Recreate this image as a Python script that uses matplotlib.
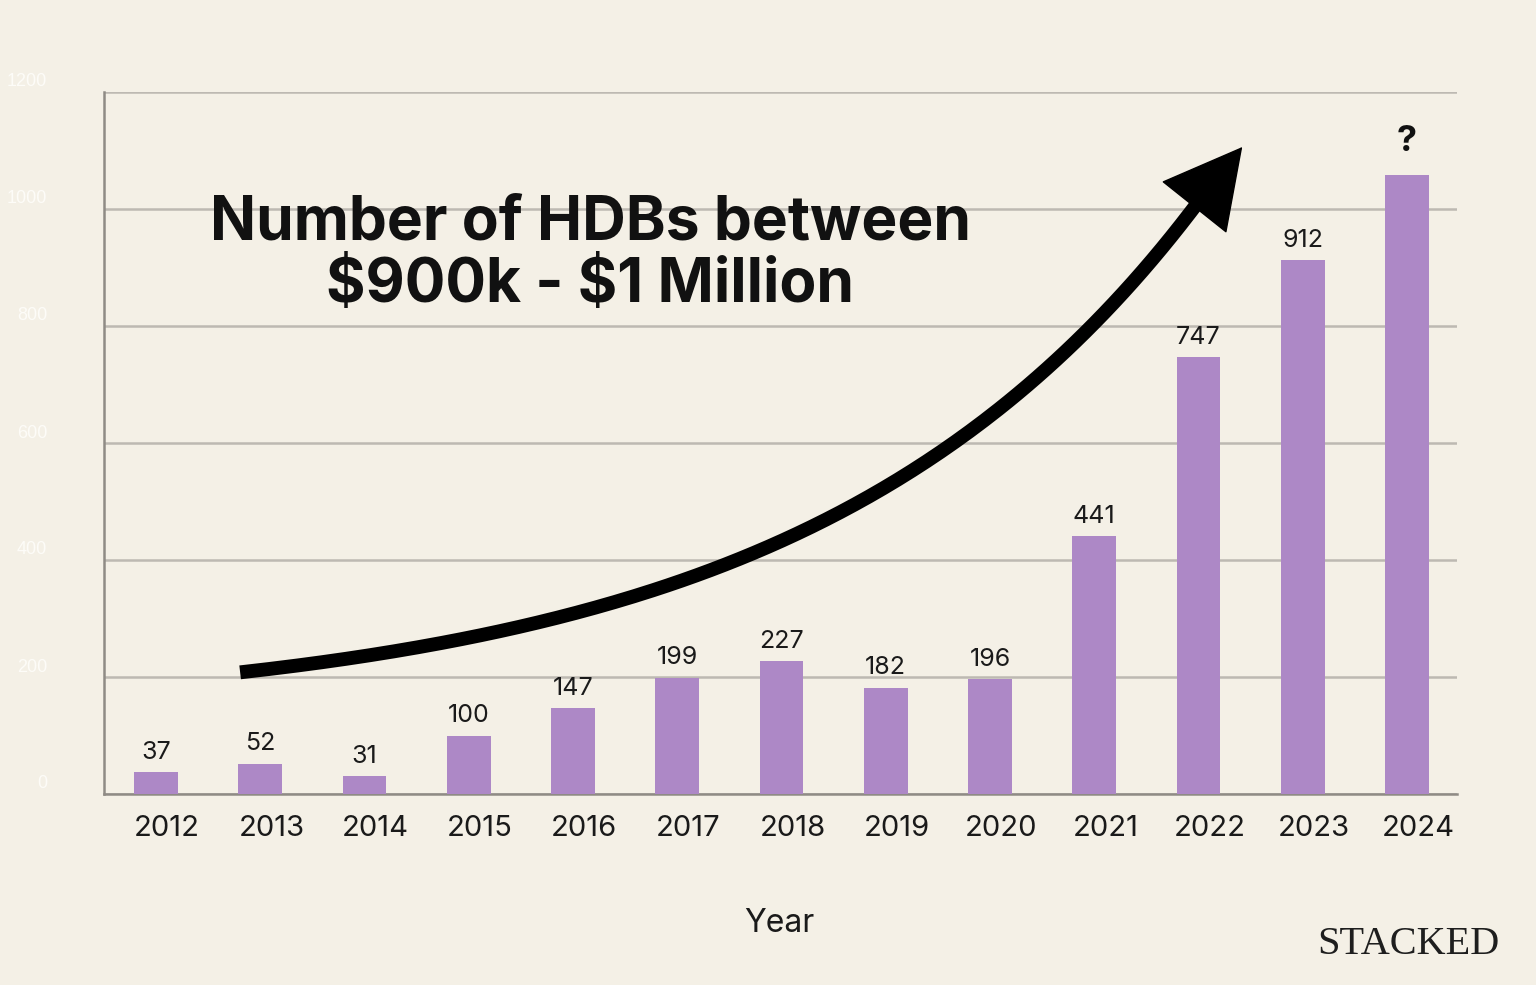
import numpy as np
import matplotlib
import matplotlib.pyplot as plt
from matplotlib.transforms import ScaledTranslation, blended_transform_factory
from matplotlib.patches import FancyArrowPatch

matplotlib.use("Agg")

# Data
years = ["2012", "2013", "2014", "2015", "2016", "2017", "2018",
         "2019", "2020", "2021", "2022", "2023", "2024"]
counts = [37, 52, 31, 100, 147, 199, 227, 182, 196, 441, 747, 912, 1058]
value_labels = ["37", "52", "31", "100", "147", "199", "227",
                "182", "196", "441", "747", "912", "?"]
y_ticks = [0, 200, 400, 600, 800, 1000, 1200]

bg = "#F4F0E6"
bar_color = "#AD88C6"

plt.rcParams["font.family"] = ["Inter", "DejaVu Sans"]

fig = plt.figure(figsize=(15.36, 9.85), dpi=100, facecolor=bg)
ax = fig.add_axes([104 / 1536, 1 - 794 / 985, (1457 - 104) / 1536, (794 - 92) / 985])
ax.set_facecolor(bg)

x = np.arange(len(years))
ax.bar(x, counts, width=0.42, color=bar_color, zorder=3)

ax.set_xlim(-0.5, len(years) - 0.52)
ax.set_ylim(0, 1200)

# Grid and spines
ax.set_yticks(y_ticks)
ax.yaxis.grid(True, color="#BDB9B2", linewidth=1.8, zorder=0)
ax.set_axisbelow(True)
for side in ["top", "right"]:
    ax.spines[side].set_visible(False)
for side in ["left", "bottom"]:
    ax.spines[side].set_color("#8F8B85")
    ax.spines[side].set_linewidth(1.8)
ax.tick_params(axis="both", length=0)
ax.set_yticklabels([])
ax.set_xticks(x)
ax.set_xticklabels([])

# Faint y labels, sitting just above the gridlines
ytrans = blended_transform_factory(ax.transAxes, ax.transData)
for t in y_ticks:
    ax.text(-0.042, t, str(t),
            transform=ytrans + ScaledTranslation(0, 10 / 100, fig.dpi_scale_trans),
            ha="right", va="center", fontsize=13, color="#FDFCF8",
            family=["Liberation Sans", "DejaVu Sans"])

# Year labels (slightly right of the bar centres, as in the reference)
xtrans = blended_transform_factory(ax.transData, ax.transAxes)
for xi, yr in zip(x, years):
    ax.text(xi, 0, yr,
            transform=xtrans + ScaledTranslation(11 / 100, -34 / 100, fig.dpi_scale_trans),
            ha="center", va="center", fontsize=21, color="#1A1A1A")

# Value labels
for xi, c, lab in zip(x, counts, value_labels):
    if lab == "?":
        ax.annotate(lab, (xi, c), xytext=(0, 12), textcoords="offset points",
                    ha="center", va="bottom", fontsize=26, fontweight="bold", color="#111111")
    else:
        ax.annotate(lab, (xi, c), xytext=(0, 6), textcoords="offset points",
                    ha="center", va="bottom", fontsize=18, color="#1A1A1A")

# Curved trend arrow (decoration)
xs = np.linspace(0.806, 9.97, 200)
ys = 134.6 + 59 * np.exp(0.27 * xs)
ax.plot(xs, ys, color="black", linewidth=10, solid_capstyle="butt", zorder=4, clip_on=False)
start = (9.6, 134.6 + 59 * np.exp(0.27 * 9.6))
arrow = FancyArrowPatch(start, (10.42, 1106),
                        arrowstyle="-|>,head_length=0.6,head_width=0.32",
                        mutation_scale=90, color="black", linewidth=1,
                        shrinkA=0, shrinkB=0, zorder=5, clip_on=False)
ax.add_patch(arrow)

# Title
fig.text(590 / 1536, 1 - 255 / 985, "Number of HDBs between\n\\$900k - \\$1 Million",
         ha="center", va="center", fontsize=43.5, fontweight="bold", color="#111111",
         linespacing=1.1)

fig.text(779 / 1536, 1 - 923 / 985, "Year", ha="center", va="center",
         fontsize=23, color="#1A1A1A")

fig.text(1408 / 1536, 1 - 944 / 985, "STACKED", ha="center", va="center",
         fontsize=29, color="#1E1E1E", family=["Liberation Serif", "DejaVu Serif"])

fig.savefig("out.png", dpi=100, facecolor=bg)
plt.close(fig)
